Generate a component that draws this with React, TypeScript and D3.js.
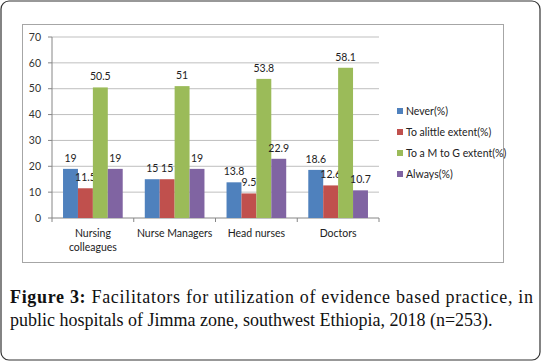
import React from 'react'
import * as d3 from 'd3'

const categories = ['Nursing colleagues', 'Nurse Managers', 'Head nurses', 'Doctors']
const seriesNames = ['Never(%)', 'To alittle extent(%)', 'To a M to G extent(%)', 'Always(%)']
const never = [19, 15, 13.8, 18.6]
const little = [11.5, 15, 9.5, 12.6]
const mToG = [50.5, 51, 53.8, 58.1]
const always = [19, 19, 22.9, 10.7]
const yTicks = [0, 10, 20, 30, 40, 50, 60, 70]
const colors = ['#4F81BD', '#C0504D', '#9BBB59', '#8064A2']

const W = 541
const H = 361
const plot = { left: 52, right: 379, top: 37, bottom: 218 }
const chartFont = 'Lato, "Open Sans", sans-serif'
const fs = 10.5

const App = () => {
  const series = [never, little, mToG, always]

  const x0 = d3.scaleBand<string>()
    .domain(categories)
    .range([plot.left, plot.right])
    .paddingInner(0.27)
    .paddingOuter(0.135)
  const x1 = d3.scaleBand<number>()
    .domain(d3.range(series.length))
    .range([0, x0.bandwidth()])
  const y = d3.scaleLinear().domain([0, 70]).range([plot.bottom, plot.top])

  const step = (plot.right - plot.left) / categories.length

  return (
    <svg width={W} height={H} style={{ position: 'absolute', left: 0, top: 0 }}>
      <rect x={1} y={1} width={W - 2} height={H - 2} rx={8} fill='white' stroke='#333' strokeWidth={1.2} />
      <rect x={22.5} y={24.5} width={481} height={238} fill='white' stroke='#A6A6A6' strokeWidth={1} />

      {yTicks.map(t => (
        <g key={t}>
          {t > 0 && <line x1={plot.left} x2={plot.right} y1={y(t)} y2={y(t)} stroke='#BFBFBF' strokeWidth={1} />}
          <line x1={plot.left - 4} x2={plot.left} y1={y(t)} y2={y(t)} stroke='#868686' />
          <text x={plot.left - 11} y={y(t)} dy='0.35em' textAnchor='end' fontSize={fs} fill='#333' fontFamily={chartFont}>{t}</text>
        </g>
      ))}
      <line x1={plot.left} x2={plot.left} y1={plot.top} y2={plot.bottom} stroke='#868686' />
      <line x1={plot.left} x2={plot.right} y1={plot.bottom} y2={plot.bottom} stroke='#868686' />
      {d3.range(categories.length + 1).map(i => (
        <line key={i} x1={plot.left + i * step} x2={plot.left + i * step} y1={plot.bottom} y2={plot.bottom + 4} stroke='#868686' />
      ))}

      {categories.map((c, ci) => (
        <g key={c} transform={`translate(${x0(c)},0)`}>
          {series.map((s, si) => (
            <g key={si}>
              <rect x={x1(si)} y={y(s[ci])} width={x1.bandwidth()} height={plot.bottom - y(s[ci])} fill={colors[si]} />
              <text x={(x1(si) as number) + x1.bandwidth() / 2} y={y(s[ci]) - 7} textAnchor='middle' fontSize={fs} fill='#222' fontFamily={chartFont}>{s[ci]}</text>
            </g>
          ))}
        </g>
      ))}

      {categories.map((c, ci) => {
        const cx = plot.left + (ci + 0.5) * step
        const lines = c === 'Nursing colleagues' ? ['Nursing', 'colleagues'] : [c]
        return (
          <text key={c} textAnchor='middle' fontSize={fs} fill='#222' fontFamily={chartFont}>
            {lines.map((l, li) => (
              <tspan key={li} x={cx} y={237 + li * 14}>{l}</tspan>
            ))}
          </text>
        )
      })}

      {seriesNames.map((n, i) => (
        <g key={n} transform={`translate(397,${111 + i * 21})`}>
          <rect x={0} y={-3} width={6} height={6} fill={colors[i]} />
          <text x={9} y={0} dy='0.35em' fontSize={fs} fill='#222' fontFamily={chartFont}>{n}</text>
        </g>
      ))}

      <text x={10} y={303} fontSize={18} fill='#111' fontFamily='"Liberation Serif", serif' textLength={523} lengthAdjust='spacing'>
        <tspan fontWeight='bold'>Figure 3:</tspan> Facilitators for utilization of evidence based practice, in
      </text>
      <text x={10} y={326} fontSize={18} fill='#111' fontFamily='"Liberation Serif", serif'>
        public hospitals of Jimma zone, southwest Ethiopia, 2018 (n=253).
      </text>
    </svg>
  )
}

export default App
